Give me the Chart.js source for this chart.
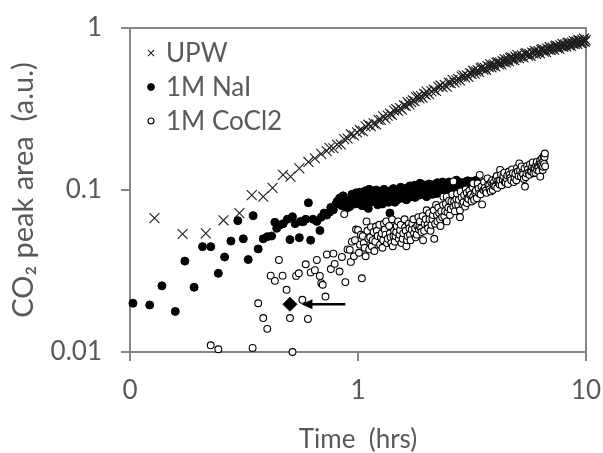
<!DOCTYPE html>
<html>
<head>
<meta charset="utf-8">
<title>CO2 peak area vs time</title>
<script src="https://cdn.jsdelivr.net/npm/chart.js@4.4.1/dist/chart.umd.min.js"></script>
<style>
    html, body { margin: 0; padding: 0; background: #ffffff; }
    #chart { display: block; }
</style>
</head>
<body>
<canvas id="chart" width="603" height="453"></canvas>
<script>
// Series names, as in the legend
const seriesNames = ['UPW', '1M NaI', '1M CoCl2'];

// Axis ticks (log scales, the bottom x tick is printed as "0")
const xTickValues = [0.1, 1, 10];
const xTickLabels = ['0', '1', '10'];
const yTickValues = [0.01, 0.1, 1];
const yTickLabels = ['0.01', '0.1', '1'];

// [time (hrs), CO2 peak area (a.u.)]
const upwPoints = [
    [0.128, 0.067], [0.170, 0.0535], [0.215, 0.054], [0.257, 0.065], [0.302, 0.072],
    [0.342, 0.093], [0.384, 0.091], [0.422, 0.103], [0.469, 0.124], [0.506, 0.121],
    [0.553, 0.136], [0.606, 0.149], [0.647, 0.157], [0.690, 0.167], [0.728, 0.174],
    [0.75, 0.182], [0.78, 0.181], [0.81, 0.191], [0.84, 0.191], [0.87, 0.206],
    [0.90, 0.208], [0.93, 0.221], [0.96, 0.217], [0.99, 0.227], [1.02, 0.234],
    [1.05, 0.231], [1.08, 0.247], [1.11, 0.253], [1.14, 0.248], [1.17, 0.258],
    [1.20, 0.254], [1.23, 0.271], [1.26, 0.271], [1.29, 0.285], [1.32, 0.276],
    [1.35, 0.288], [1.38, 0.296], [1.41, 0.291], [1.44, 0.309], [1.47, 0.316],
    [1.50, 0.308], [1.53, 0.320], [1.56, 0.313], [1.59, 0.333], [1.62, 0.331],
    [1.65, 0.349], [1.68, 0.337], [1.71, 0.349], [1.74, 0.358], [1.77, 0.353],
    [1.80, 0.373], [1.83, 0.379], [1.86, 0.368], [1.89, 0.380], [1.92, 0.371],
    [1.95, 0.392], [1.98, 0.388], [2.00, 0.405], [2.05, 0.391], [2.10, 0.406],
    [2.15, 0.416], [2.20, 0.409], [2.25, 0.434], [2.30, 0.442], [2.35, 0.431],
    [2.40, 0.446], [2.45, 0.434], [2.50, 0.460], [2.55, 0.457], [2.60, 0.478],
    [2.65, 0.461], [2.70, 0.476], [2.75, 0.486], [2.80, 0.475], [2.85, 0.502],
    [2.90, 0.510], [2.95, 0.495], [3.00, 0.511], [3.05, 0.499], [3.10, 0.527],
    [3.15, 0.521], [3.20, 0.545], [3.25, 0.523], [3.30, 0.539], [3.35, 0.549],
    [3.40, 0.535], [3.45, 0.564], [3.50, 0.572], [3.55, 0.554], [3.60, 0.568],
    [3.65, 0.552], [3.70, 0.582], [3.75, 0.573], [3.80, 0.597], [3.85, 0.572],
    [3.90, 0.588], [3.95, 0.597], [4.00, 0.579], [4.05, 0.610], [4.10, 0.617],
    [4.15, 0.596], [4.20, 0.612], [4.25, 0.595], [4.30, 0.625], [4.35, 0.617],
    [4.40, 0.642], [4.45, 0.614], [4.50, 0.630], [4.55, 0.640], [4.60, 0.621],
    [4.65, 0.653], [4.70, 0.660], [4.75, 0.637], [4.80, 0.653], [4.85, 0.633],
    [4.90, 0.666], [4.95, 0.655], [5.00, 0.680], [5.08, 0.651], [5.16, 0.668],
    [5.24, 0.678], [5.32, 0.658], [5.40, 0.693], [5.48, 0.699], [5.56, 0.676],
    [5.64, 0.692], [5.72, 0.672], [5.80, 0.706], [5.88, 0.697], [5.96, 0.724],
    [6.04, 0.693], [6.12, 0.710], [6.20, 0.720], [6.28, 0.698], [6.36, 0.734],
    [6.44, 0.741], [6.52, 0.715], [6.60, 0.733], [6.68, 0.710], [6.76, 0.746],
    [6.84, 0.735], [6.92, 0.764], [7.00, 0.729], [7.08, 0.747], [7.16, 0.758],
    [7.24, 0.734], [7.32, 0.771], [7.40, 0.778], [7.48, 0.751], [7.56, 0.769],
    [7.64, 0.745], [7.72, 0.782], [7.80, 0.769], [7.88, 0.799], [7.96, 0.763],
    [8.04, 0.781], [8.12, 0.792], [8.20, 0.767], [8.28, 0.805], [8.36, 0.812],
    [8.44, 0.782], [8.52, 0.801], [8.60, 0.776], [8.68, 0.814], [8.76, 0.801],
    [8.84, 0.831], [8.92, 0.794], [9.00, 0.812], [9.08, 0.823], [9.16, 0.797],
    [9.24, 0.836], [9.32, 0.843], [9.40, 0.813], [9.48, 0.831], [9.56, 0.805],
    [9.64, 0.844], [9.72, 0.830], [9.80, 0.862], [9.88, 0.822], [9.96, 0.842]
];

const naiPoints = [
    [0.103, 0.020], [0.122, 0.0195], [0.138, 0.0256], [0.158, 0.0178], [0.174, 0.0364],
    [0.191, 0.0251], [0.208, 0.0447], [0.226, 0.0447], [0.244, 0.0306], [0.260, 0.0386],
    [0.277, 0.0484], [0.297, 0.0647], [0.314, 0.050], [0.330, 0.0372], [0.347, 0.0694],
    [0.365, 0.0433], [0.384, 0.050], [0.400, 0.0515], [0.418, 0.052], [0.432, 0.0632],
    [0.44, 0.058], [0.454, 0.0607], [0.47, 0.062], [0.49, 0.066], [0.503, 0.0494],
    [0.516, 0.0684], [0.53, 0.062], [0.553, 0.0508], [0.56, 0.064], [0.575, 0.0637],
    [0.59, 0.066], [0.606, 0.0834], [0.620, 0.049], [0.635, 0.066], [0.66, 0.064],
    [0.681, 0.0562], [0.69, 0.068], [0.71, 0.072], [0.730, 0.070], [0.75, 0.073],
    [0.76, 0.078], [0.780, 0.0755], [0.80, 0.082], [0.81, 0.085], [0.830, 0.089],
    [0.85, 0.080], [0.86, 0.092], [0.87, 0.086], [0.88, 0.083], [0.89, 0.077],
    [0.91, 0.083], [0.92, 0.079], [0.93, 0.088], [0.94, 0.094], [0.95, 0.087],
    [0.96, 0.085], [0.97, 0.082], [0.98, 0.096], [0.99, 0.090], [1.00, 0.083],
    [1.01, 0.091], [1.02, 0.097], [1.03, 0.085], [1.04, 0.080], [1.05, 0.088],
    [1.06, 0.093], [1.07, 0.083], [1.08, 0.099], [1.09, 0.079], [1.10, 0.086],
    [1.11, 0.077], [1.12, 0.101], [1.13, 0.090], [1.14, 0.084], [1.15, 0.094],
    [1.16, 0.091], [1.17, 0.098], [1.18, 0.085], [1.19, 0.092], [1.20, 0.100],
    [1.21, 0.087], [1.22, 0.081], [1.23, 0.093], [1.24, 0.098], [1.25, 0.087],
    [1.26, 0.092], [1.27, 0.095], [1.28, 0.082], [1.29, 0.089], [1.30, 0.101],
    [1.31, 0.093], [1.32, 0.096], [1.33, 0.085], [1.34, 0.088], [1.35, 0.096],
    [1.36, 0.084], [1.37, 0.090], [1.38, 0.072], [1.39, 0.099], [1.40, 0.094],
    [1.41, 0.086], [1.42, 0.091], [1.43, 0.102], [1.44, 0.097], [1.45, 0.084],
    [1.46, 0.088], [1.47, 0.099], [1.48, 0.095], [1.49, 0.087], [1.50, 0.092],
    [1.52, 0.094], [1.53, 0.100], [1.54, 0.104], [1.55, 0.094], [1.56, 0.090],
    [1.57, 0.089], [1.59, 0.101], [1.60, 0.097], [1.62, 0.093], [1.63, 0.087],
    [1.64, 0.103], [1.65, 0.095], [1.67, 0.090], [1.68, 0.101], [1.69, 0.106],
    [1.70, 0.093], [1.72, 0.091], [1.73, 0.098], [1.74, 0.102], [1.75, 0.096],
    [1.77, 0.107], [1.78, 0.090], [1.80, 0.094], [1.81, 0.104], [1.83, 0.100],
    [1.84, 0.097], [1.86, 0.093], [1.87, 0.110], [1.89, 0.104], [1.90, 0.099],
    [1.92, 0.108], [1.93, 0.094], [1.95, 0.096], [1.96, 0.102], [1.98, 0.106],
    [2.00, 0.091], [2.02, 0.097], [2.03, 0.100], [2.05, 0.109], [2.06, 0.106],
    [2.08, 0.101], [2.10, 0.098], [2.12, 0.094], [2.14, 0.105], [2.16, 0.108],
    [2.17, 0.101], [2.19, 0.103], [2.21, 0.095], [2.23, 0.111], [2.25, 0.103],
    [2.27, 0.100], [2.29, 0.096], [2.31, 0.104], [2.33, 0.107], [2.35, 0.112],
    [2.37, 0.101], [2.39, 0.095], [2.41, 0.098], [2.43, 0.105], [2.45, 0.110],
    [2.47, 0.099], [2.49, 0.104], [2.51, 0.112], [2.53, 0.100], [2.55, 0.104],
    [2.57, 0.108], [2.60, 0.110], [2.62, 0.103], [2.64, 0.101], [2.66, 0.097],
    [2.68, 0.106], [2.70, 0.115], [2.73, 0.099], [2.75, 0.106], [2.78, 0.112],
    [2.80, 0.101], [2.83, 0.104], [2.85, 0.109], [2.88, 0.098], [2.90, 0.104],
    [2.93, 0.108], [2.95, 0.112], [2.98, 0.101], [3.00, 0.106], [3.03, 0.114],
    [3.05, 0.110], [3.08, 0.107], [3.10, 0.103], [3.13, 0.102], [3.15, 0.113],
    [3.18, 0.110], [3.20, 0.108], [3.23, 0.105], [3.25, 0.111], [3.28, 0.109],
    [3.30, 0.115]
];

const cocl2Points = [
    [0.226, 0.011], [0.244, 0.0104], [0.345, 0.0106], [0.516, 0.0100], [0.365, 0.0200],
    [0.384, 0.0162], [0.400, 0.0139], [0.414, 0.0296], [0.432, 0.0275], [0.450, 0.037],
    [0.467, 0.0296], [0.486, 0.0242], [0.503, 0.0162], [0.535, 0.0295], [0.550, 0.0306],
    [0.570, 0.021], [0.590, 0.0348], [0.603, 0.016], [0.620, 0.031], [0.647, 0.032],
    [0.660, 0.037], [0.680, 0.0295], [0.690, 0.0266], [0.700, 0.026], [0.720, 0.022],
    [0.730, 0.040], [0.760, 0.0325], [0.780, 0.0405], [0.790, 0.035], [0.830, 0.0314],
    [0.850, 0.0386], [0.870, 0.071], [0.880, 0.027], [0.900, 0.043], [0.92, 0.0427],
    [0.93, 0.036], [0.94, 0.048], [0.96, 0.039], [0.97, 0.049], [0.98, 0.057],
    [1.00, 0.0566], [1.01, 0.041], [1.02, 0.046], [1.03, 0.053], [1.04, 0.0285],
    [1.05, 0.052], [1.06, 0.047], [1.07, 0.044], [1.08, 0.039], [1.09, 0.064],
    [1.10, 0.056], [1.11, 0.050], [1.12, 0.043], [1.13, 0.051], [1.14, 0.059],
    [1.15, 0.045], [1.16, 0.049], [1.17, 0.055], [1.18, 0.042], [1.19, 0.048],
    [1.20, 0.0595], [1.21, 0.056], [1.22, 0.052], [1.24, 0.061], [1.25, 0.046],
    [1.26, 0.051], [1.27, 0.054], [1.28, 0.044], [1.29, 0.049], [1.30, 0.062],
    [1.31, 0.057], [1.32, 0.053], [1.33, 0.064], [1.34, 0.047], [1.35, 0.050],
    [1.37, 0.060], [1.38, 0.054], [1.39, 0.051], [1.40, 0.047], [1.41, 0.066],
    [1.42, 0.045], [1.43, 0.052], [1.44, 0.056], [1.45, 0.048], [1.46, 0.052],
    [1.47, 0.055], [1.48, 0.060], [1.50, 0.064], [1.51, 0.050], [1.52, 0.053],
    [1.53, 0.0566], [1.54, 0.061], [1.55, 0.047], [1.57, 0.050], [1.58, 0.054],
    [1.60, 0.066], [1.61, 0.059], [1.62, 0.056], [1.63, 0.045], [1.64, 0.049],
    [1.65, 0.052], [1.67, 0.062], [1.68, 0.058], [1.69, 0.053], [1.70, 0.049],
    [1.72, 0.057], [1.73, 0.062], [1.75, 0.066], [1.76, 0.054], [1.78, 0.058],
    [1.79, 0.051], [1.81, 0.053], [1.82, 0.060], [1.84, 0.068], [1.85, 0.057],
    [1.86, 0.060], [1.87, 0.064], [1.89, 0.058], [1.90, 0.055], [1.92, 0.069],
    [1.93, 0.049], [1.95, 0.056], [1.96, 0.062], [1.98, 0.066], [2.00, 0.075],
    [2.02, 0.061], [2.03, 0.058], [2.05, 0.072], [2.06, 0.066], [2.08, 0.056],
    [2.10, 0.061], [2.12, 0.066], [2.13, 0.070], [2.15, 0.075], [2.16, 0.050],
    [2.18, 0.062], [2.20, 0.081], [2.22, 0.070], [2.23, 0.064], [2.25, 0.078],
    [2.27, 0.072], [2.29, 0.066], [2.30, 0.060], [2.32, 0.074], [2.34, 0.068],
    [2.36, 0.081], [2.37, 0.091], [2.39, 0.069], [2.41, 0.074], [2.43, 0.082],
    [2.45, 0.064], [2.45, 0.091], [2.47, 0.073], [2.49, 0.078], [2.51, 0.086],
    [2.53, 0.070], [2.55, 0.076], [2.57, 0.085], [2.59, 0.094], [2.62, 0.113],
    [2.62, 0.079], [2.64, 0.085], [2.66, 0.074], [2.68, 0.081], [2.70, 0.088],
    [2.72, 0.095], [2.75, 0.081], [2.77, 0.087], [2.80, 0.068], [2.80, 0.075],
    [2.82, 0.098], [2.85, 0.090], [2.87, 0.082], [2.90, 0.084], [2.92, 0.093],
    [2.95, 0.079], [2.97, 0.101], [3.00, 0.096], [3.00, 0.083], [3.02, 0.089],
    [3.05, 0.088], [3.08, 0.099], [3.10, 0.093], [3.13, 0.094], [3.15, 0.085],
    [3.18, 0.104], [3.20, 0.110], [3.20, 0.091], [3.23, 0.087], [3.26, 0.097],
    [3.29, 0.099], [3.32, 0.089], [3.35, 0.110], [3.38, 0.102], [3.40, 0.095],
    [3.42, 0.124], [3.45, 0.094], [3.48, 0.105], [3.50, 0.0815], [3.55, 0.100],
    [3.57, 0.112], [3.60, 0.103], [3.63, 0.099], [3.66, 0.096], [3.70, 0.118],
    [3.72, 0.108], [3.76, 0.107], [3.78, 0.101], [3.82, 0.098], [3.84, 0.112],
    [3.88, 0.115], [3.90, 0.100], [3.94, 0.111], [3.96, 0.106], [4.00, 0.105],
    [4.02, 0.118], [4.06, 0.122], [4.08, 0.103], [4.12, 0.114], [4.14, 0.110],
    [4.18, 0.108], [4.20, 0.115], [4.20, 0.133], [4.24, 0.124], [4.27, 0.107],
    [4.31, 0.116], [4.34, 0.122], [4.38, 0.128], [4.41, 0.112], [4.45, 0.111],
    [4.48, 0.118], [4.52, 0.123], [4.55, 0.109], [4.59, 0.130], [4.62, 0.124],
    [4.66, 0.119], [4.70, 0.115], [4.74, 0.134], [4.78, 0.127], [4.82, 0.112],
    [4.86, 0.119], [4.90, 0.126], [4.95, 0.115], [4.98, 0.137], [5.02, 0.130],
    [5.06, 0.122], [5.10, 0.146], [5.14, 0.132], [5.18, 0.121], [5.22, 0.140],
    [5.26, 0.128], [5.30, 0.125], [5.34, 0.117], [5.38, 0.136], [5.40, 0.105],
    [5.44, 0.120], [5.48, 0.127], [5.52, 0.141], [5.56, 0.134], [5.60, 0.128],
    [5.64, 0.124], [5.68, 0.144], [5.72, 0.131], [5.76, 0.130], [5.80, 0.139],
    [5.84, 0.148], [5.88, 0.127], [5.92, 0.137], [5.96, 0.135], [6.00, 0.128],
    [6.04, 0.142], [6.08, 0.149], [6.10, 0.133], [6.14, 0.140], [6.18, 0.138],
    [6.22, 0.131], [6.26, 0.147], [6.30, 0.121], [6.30, 0.153], [6.34, 0.145],
    [6.38, 0.141], [6.42, 0.157], [6.46, 0.133], [6.48, 0.139], [6.50, 0.150],
    [6.53, 0.163], [6.55, 0.145], [6.58, 0.160], [6.60, 0.168], [6.62, 0.140]
];

// The marked point and the arrow pointing at it
const markedPoint = [[0.503, 0.0197]];
const arrowTail = [0.88, 0.0197];
const arrowTip = [0.565, 0.0197];

const textColor = '#595959';
const axisColor = '#868686';
const fontFamily = 'Lato, "Open Sans", sans-serif';

function toXY(points) {
    return points.map(p => ({ x: p[0], y: p[1] }));
}

// Legend drawn inside the plot area, top left
const insideLegend = {
    id: 'insideLegend',
    afterDraw(chart) {
        const ctx = chart.ctx;
        const area = chart.chartArea;
        ctx.save();
        ctx.font = '26px ' + fontFamily;
        ctx.textBaseline = 'middle';
        ctx.textAlign = 'left';
        seriesNames.forEach((name, i) => {
            const ds = chart.data.datasets[i];
            const y = area.top + 25 + i * 34;
            const x = area.left + 21;
            ctx.fillStyle = ds.pointBackgroundColor;
            ctx.strokeStyle = ds.pointBorderColor;
            ctx.lineWidth = ds.pointBorderWidth;
            Chart.helpers.drawPoint(ctx, {
                pointStyle: ds.pointStyle,
                radius: ds.legendRadius,
                borderWidth: ds.pointBorderWidth,
                rotation: 0
            }, x, y);
            ctx.fillStyle = textColor;
            ctx.fillText(name, x + 15, y + 1);
        });
        ctx.restore();
    }
};

// Top and right sides of the plot frame, and the arrow
const frameAndArrow = {
    id: 'frameAndArrow',
    beforeDatasetsDraw(chart) {
        const ctx = chart.ctx;
        const a = chart.chartArea;
        ctx.save();
        ctx.strokeStyle = axisColor;
        ctx.lineWidth = 2;
        ctx.beginPath();
        ctx.moveTo(a.left, a.top);
        ctx.lineTo(a.right, a.top);
        ctx.lineTo(a.right, a.bottom);
        ctx.stroke();
        ctx.restore();
    },
    afterDatasetsDraw(chart) {
        const ctx = chart.ctx;
        const xs = chart.scales.x;
        const ys = chart.scales.y;
        const x0 = xs.getPixelForValue(arrowTail[0]);
        const y0 = ys.getPixelForValue(arrowTail[1]);
        const x1 = xs.getPixelForValue(arrowTip[0]);
        const y1 = ys.getPixelForValue(arrowTip[1]);
        ctx.save();
        ctx.strokeStyle = '#000000';
        ctx.fillStyle = '#000000';
        ctx.lineWidth = 2.5;
        ctx.beginPath();
        ctx.moveTo(x0, y0);
        ctx.lineTo(x1 + 8, y1);
        ctx.stroke();
        ctx.beginPath();
        ctx.moveTo(x1, y1);
        ctx.lineTo(x1 + 11, y1 - 5);
        ctx.lineTo(x1 + 11, y1 + 5);
        ctx.closePath();
        ctx.fill();
        ctx.restore();
    }
};

document.addEventListener('DOMContentLoaded', function() {
    const ctx = document.getElementById('chart').getContext('2d');

    new Chart(ctx, {
        type: 'scatter',
        data: {
            datasets: [
                {
                    label: seriesNames[0],
                    data: toXY(upwPoints),
                    pointStyle: 'crossRot',
                    pointRadius: 7,
                    legendRadius: 4.3,
                    pointBorderWidth: 1.1,
                    pointBorderColor: '#1e1e1e',
                    pointBackgroundColor: '#1e1e1e',
                    order: 3,
                    clip: false
                },
                {
                    label: seriesNames[1],
                    data: toXY(naiPoints),
                    pointStyle: 'circle',
                    pointRadius: 4,
                    legendRadius: 3.4,
                    pointBorderWidth: 1,
                    pointBorderColor: '#000000',
                    pointBackgroundColor: '#000000',
                    order: 2,
                    clip: false
                },
                {
                    label: seriesNames[2],
                    data: toXY(cocl2Points),
                    pointStyle: 'circle',
                    pointRadius: 3.4,
                    legendRadius: 3.0,
                    pointBorderWidth: 1.1,
                    pointBorderColor: '#000000',
                    pointBackgroundColor: '#ffffff',
                    order: 1,
                    clip: false
                },
                {
                    label: 'marked',
                    data: toXY(markedPoint),
                    pointStyle: 'rectRot',
                    pointRadius: 7,
                    pointBorderWidth: 1,
                    pointBorderColor: '#000000',
                    pointBackgroundColor: '#000000',
                    order: 0,
                    clip: false
                }
            ]
        },
        options: {
            responsive: false,
            animation: false,
            devicePixelRatio: 1,
            layout: {
                padding: { top: 28, right: 17, left: 0, bottom: 0 }
            },
            plugins: {
                legend: { display: false },
                tooltip: { enabled: false }
            },
            scales: {
                x: {
                    type: 'logarithmic',
                    min: 0.1,
                    max: 10,
                    afterBuildTicks: scale => {
                        scale.ticks = xTickValues.map(v => ({ value: v }));
                    },
                    afterFit: scale => {
                        scale.height = 101;
                        scale.paddingLeft = 0;
                        scale.paddingRight = 0;
                    },
                    ticks: {
                        callback: (value, index) => xTickLabels[index],
                        autoSkip: false,
                        maxRotation: 0,
                        padding: 14,
                        color: textColor,
                        font: { family: fontFamily, size: 26 }
                    },
                    grid: {
                        drawOnChartArea: false,
                        drawTicks: true,
                        tickLength: 9,
                        color: axisColor,
                        lineWidth: 2
                    },
                    border: { color: axisColor, width: 2 },
                    title: {
                        display: true,
                        text: 'Time  (hrs)',
                        color: textColor,
                        font: { family: fontFamily, size: 26, lineHeight: 1 },
                        padding: { top: 0, bottom: 0 }
                    }
                },
                y: {
                    type: 'logarithmic',
                    min: 0.01,
                    max: 1,
                    afterBuildTicks: scale => {
                        scale.ticks = yTickValues.map(v => ({ value: v }));
                    },
                    afterFit: scale => {
                        scale.width = 130;
                        scale.paddingTop = 0;
                        scale.paddingBottom = 0;
                    },
                    ticks: {
                        callback: (value, index) => yTickLabels[index],
                        autoSkip: false,
                        padding: 19,
                        color: textColor,
                        font: { family: fontFamily, size: 26 }
                    },
                    grid: {
                        drawOnChartArea: false,
                        drawTicks: true,
                        tickLength: 9,
                        color: axisColor,
                        lineWidth: 2
                    },
                    border: { color: axisColor, width: 2 },
                    title: {
                        display: true,
                        text: 'CO\u2082 peak area  (a.u.)',
                        color: textColor,
                        font: { family: fontFamily, size: 29, lineHeight: 1 },
                        padding: { top: 9, bottom: 0 }
                    }
                }
            }
        },
        plugins: [frameAndArrow, insideLegend]
    });
});
</script>
</body>
</html>
